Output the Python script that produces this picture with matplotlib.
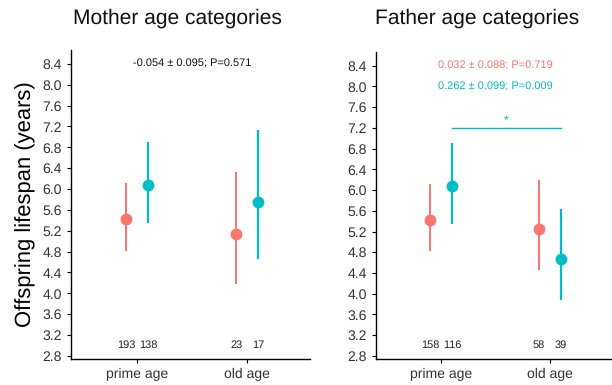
import matplotlib
matplotlib.use("Agg")
import matplotlib.pyplot as plt

plt.rcParams["font.family"] = ["Liberation Sans", "DejaVu Sans"]
plt.rcParams["text.hinting"] = "no_hinting"
plt.rcParams["text.hinting_factor"] = 1

categories = ["prime age", "old age"]
red_col = "#F8766D"
blue_col = "#00BFC4"

# Mother panel
m_red_mean = [5.42, 5.14]
m_red_lo = [4.82, 4.18]
m_red_hi = [6.12, 6.32]
m_blue_mean = [6.07, 5.75]
m_blue_lo = [5.35, 4.65]
m_blue_hi = [6.90, 7.13]
m_red_n = ["193", "23"]
m_blue_n = ["138", "17"]

# Father panel
f_red_mean = [5.42, 5.25]
f_red_lo = [4.82, 4.45]
f_red_hi = [6.12, 6.20]
f_blue_mean = [6.07, 4.67]
f_blue_lo = [5.35, 3.88]
f_blue_hi = [6.90, 5.63]
f_red_n = ["158", "58"]
f_blue_n = ["116", "39"]

yticks = [2.8, 3.2, 3.6, 4.0, 4.4, 4.8, 5.2, 5.6, 6.0, 6.4, 6.8, 7.2, 7.6, 8.0, 8.4]

fig = plt.figure(figsize=(6.12, 3.85), dpi=100)
axL = fig.add_axes([0.116, 0.0675, 0.391, 0.803])
axR = fig.add_axes([0.614, 0.0675, 0.386, 0.798])

def draw(ax, rm, rlo, rhi, bm, blo, bhi, rn, bn):
    xs = [1, 2]
    off = 0.1
    for i, x in enumerate(xs):
        ax.plot([x - off, x - off], [rlo[i], rhi[i]], color=red_col, lw=1.4, solid_capstyle="butt")
        ax.plot([x + off, x + off], [blo[i], bhi[i]], color=blue_col, lw=1.6, solid_capstyle="butt")
        ax.plot(x - off, rm[i], "o", color=red_col, ms=8.5, mec="none")
        ax.plot(x + off, bm[i], "o", color=blue_col, ms=8.5, mec="none")
        ax.text(x - off, 3.0, rn[i], ha="center", va="center", fontsize=8, color="#222222")
        ax.text(x + off, 3.0, bn[i], ha="center", va="center", fontsize=8, color="#222222")
    ax.set_xlim(0.4, 2.57)
    ax.set_ylim(2.74, 8.67)
    ax.set_xticks(xs)
    ax.set_xticklabels(categories)
    ax.set_yticks(yticks)
    ax.set_yticklabels([f"{t:.1f}" for t in yticks])
    for s in ["top", "right"]:
        ax.spines[s].set_visible(False)
    for s in ["left", "bottom"]:
        ax.spines[s].set_color("black")
        ax.spines[s].set_linewidth(1.0)
    ax.tick_params(axis="both", labelsize=10, labelcolor="#333333", color="black", length=3, width=0.8)

draw(axL, m_red_mean, m_red_lo, m_red_hi, m_blue_mean, m_blue_lo, m_blue_hi, m_red_n, m_blue_n)
draw(axR, f_red_mean, f_red_lo, f_red_hi, f_blue_mean, f_blue_lo, f_blue_hi, f_red_n, f_blue_n)

fig.text(177 / 612, 1 - 18 / 385, "Mother age categories", ha="center", va="center", fontsize=15, color="#111111")
fig.text(477 / 612, 1 - 18 / 385, "Father age categories", ha="center", va="center", fontsize=15, color="#111111")

axL.set_ylabel("Offspring lifespan (years)", fontsize=16, labelpad=5)

axL.text(1.5, 8.4, "-0.054 ± 0.095; P=0.571", ha="center", va="center", fontsize=8, color="#111111")
axR.text(1.5, 8.4, "0.032 ± 0.088; P=0.719", ha="center", va="center", fontsize=8, color=red_col)
axR.text(1.5, 8.0, "0.262 ± 0.099; P=0.009", ha="center", va="center", fontsize=8, color=blue_col)
axR.plot([1.1, 2.1], [7.2, 7.2], color=blue_col, lw=1.0)
axR.text(1.6, 7.33, "*", ha="center", va="center", fontsize=8.5, color=blue_col)

fig.savefig("out.png", dpi=100)
